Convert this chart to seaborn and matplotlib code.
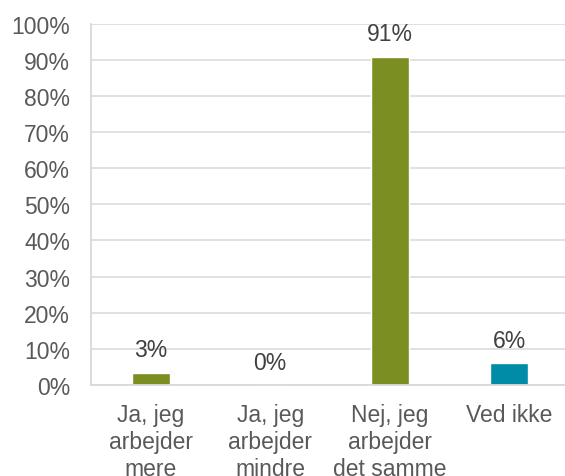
import matplotlib
matplotlib.use("Agg")
import matplotlib.pyplot as plt
import seaborn as sns
import pandas as pd

categories = ["Ja, jeg\narbejder\nmere", "Ja, jeg\narbejder\nmindre", "Nej, jeg\narbejder\ndet samme", "Ved ikke"]
values = [3.4, 0.0, 90.8, 6.1]
labels = ["3%", "0%", "91%", "6%"]
colors = ["#7A8E22", "#7A8E22", "#7A8E22", "#008BA6"]
yticks = list(range(0, 101, 10))

sns.set_style("white")
plt.rcParams["font.family"] = ["Liberation Sans", "DejaVu Sans"]

df = pd.DataFrame({"cat": categories, "val": values})

fig = plt.figure(figsize=(5.65, 4.77), dpi=100)
ax = fig.add_axes([91 / 565, 91 / 477, 478 / 565, 361.5 / 477])

sns.barplot(data=df, x="cat", y="val", hue="cat", palette=colors, legend=False,
            width=0.32, ax=ax, saturation=1)

fs = 16.5
ax.set_ylim(0, 100)
ax.set_xlim(-0.5, 3.5)
ax.set_yticks(yticks)
ax.set_yticklabels([f"{t}%" for t in yticks])
ax.set_xlabel("")
ax.set_ylabel("")
ax.yaxis.grid(True, color="#D9D9D9", linewidth=1.1)
ax.set_axisbelow(True)
for s in ["top", "right"]:
    ax.spines[s].set_visible(False)
for s in ["left", "bottom"]:
    ax.spines[s].set_color("#D9D9D9")
    ax.spines[s].set_linewidth(1.3)
ax.tick_params(axis="both", length=0, labelsize=fs, labelcolor="#595959")
ax.tick_params(axis="y", pad=15)
ax.tick_params(axis="x", pad=13)
for lab in ax.get_xticklabels():
    lab.set_linespacing(1.22)

for i, (v, t) in enumerate(zip(values, labels)):
    ax.annotate(t, (i, v), xytext=(0, 16.5), textcoords="offset points",
                ha="center", va="center", fontsize=fs, color="#404040")

fig.savefig("out.png", dpi=100)
